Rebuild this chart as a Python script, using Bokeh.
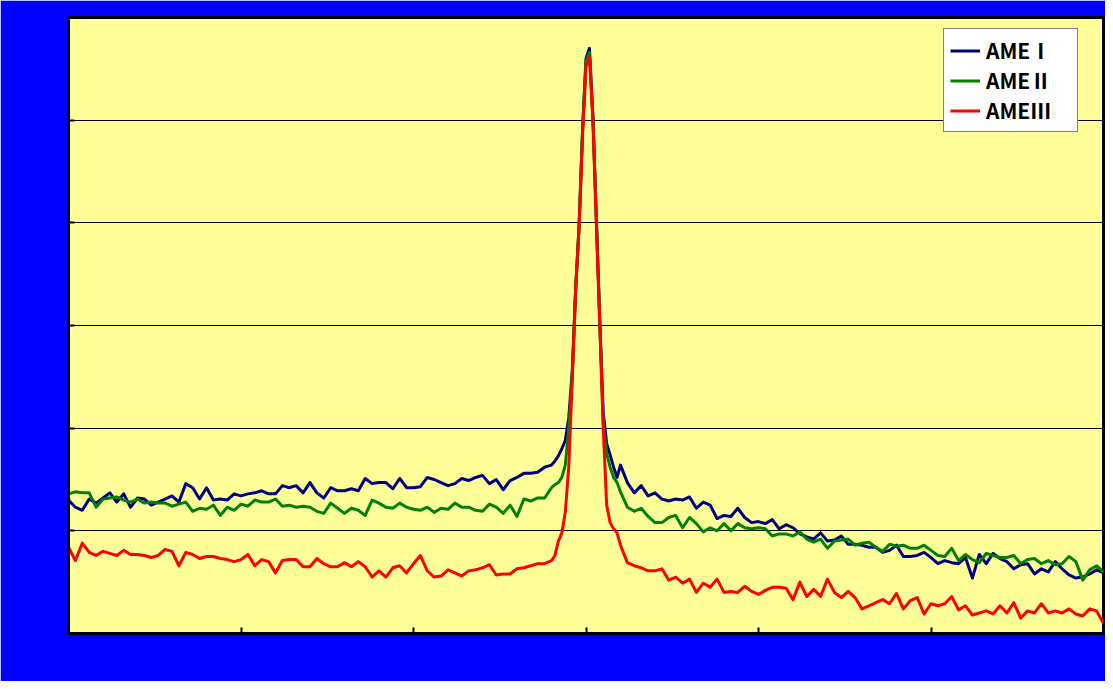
from bokeh.plotting import figure
from bokeh.models import Range1d, FixedTicker, Legend, LegendItem
from bokeh.embed import file_html
from bokeh.resources import INLINE

# x grid (arbitrary units, tick every 100)
x_left = list(range(0, 281, 4))
x_peak = list(range(282, 321, 2))
x_right = list(range(324, 601, 4))
x_ticks = [0, 100, 200, 300, 400, 500, 600]
y_ticks = [0, 1, 2, 3, 4, 5, 6]

series_names = ["AMEⅠ", "AMEⅡ", "AMEⅢ"]
series_colors = ["#000080", "#008000", "#FF0000"]

ame1_left = [1.30, 1.23, 1.20, 1.31, 1.27, 1.32, 1.37, 1.28, 1.36, 1.23,
             1.32, 1.31, 1.25, 1.28, 1.31, 1.34, 1.28, 1.46, 1.42, 1.31,
             1.42, 1.30, 1.31, 1.30, 1.36, 1.34, 1.36, 1.37, 1.39, 1.36,
             1.36, 1.44, 1.42, 1.44, 1.37, 1.47, 1.37, 1.32, 1.42, 1.39,
             1.39, 1.41, 1.39, 1.51, 1.46, 1.47, 1.47, 1.41, 1.51, 1.42,
             1.42, 1.43, 1.52, 1.50, 1.47, 1.44, 1.46, 1.51, 1.49, 1.52,
             1.54, 1.46, 1.50, 1.40, 1.49, 1.52, 1.56, 1.56, 1.57, 1.62,
             1.64]
ame1_peak = [1.68, 1.73, 1.80, 1.88, 2.10, 2.55, 3.35, 3.98, 4.90, 5.60,
             5.70, 5.05, 4.05, 3.05, 2.15, 1.85, 1.74, 1.62, 1.52, 1.64]
ame1_right = [1.47, 1.37, 1.44, 1.34, 1.37, 1.31, 1.29, 1.31, 1.30, 1.33,
              1.22, 1.28, 1.25, 1.12, 1.15, 1.14, 1.22, 1.13, 1.08, 1.09,
              1.07, 1.11, 1.02, 1.06, 1.03, 0.97, 0.94, 0.92, 0.98, 0.90,
              0.91, 0.95, 0.87, 0.87, 0.86, 0.84, 0.84, 0.79, 0.81, 0.86,
              0.75, 0.75, 0.76, 0.79, 0.74, 0.68, 0.71, 0.69, 0.68, 0.74,
              0.54, 0.77, 0.68, 0.78, 0.73, 0.70, 0.63, 0.67, 0.68, 0.58,
              0.63, 0.60, 0.70, 0.63, 0.57, 0.54, 0.55, 0.58, 0.62, 0.59]

ame2_left = [1.36, 1.38, 1.37, 1.37, 1.23, 1.31, 1.32, 1.33, 1.30, 1.28,
             1.31, 1.27, 1.28, 1.27, 1.27, 1.24, 1.26, 1.28, 1.19, 1.22,
             1.21, 1.25, 1.15, 1.23, 1.20, 1.26, 1.24, 1.30, 1.28, 1.28,
             1.31, 1.24, 1.25, 1.23, 1.24, 1.23, 1.19, 1.17, 1.27, 1.22,
             1.17, 1.22, 1.20, 1.15, 1.30, 1.27, 1.23, 1.22, 1.27, 1.23,
             1.21, 1.20, 1.23, 1.18, 1.22, 1.21, 1.27, 1.23, 1.23, 1.20,
             1.19, 1.26, 1.23, 1.17, 1.25, 1.14, 1.31, 1.29, 1.32, 1.32,
             1.42]
ame2_peak = [1.45, 1.47, 1.52, 1.64, 2.00, 2.50, 3.35, 3.98, 4.90, 5.58,
             5.66, 5.02, 4.02, 3.02, 2.05, 1.75, 1.62, 1.52, 1.47, 1.38]
ame2_right = [1.23, 1.19, 1.22, 1.14, 1.08, 1.08, 1.13, 1.15, 1.03, 1.13,
              1.07, 0.99, 1.03, 1.00, 1.07, 1.00, 1.07, 1.03, 1.02, 1.03,
              1.02, 0.95, 0.97, 0.97, 0.95, 0.99, 0.92, 0.89, 0.92, 0.83,
              0.90, 0.91, 0.92, 0.86, 0.88, 0.89, 0.84, 0.80, 0.87, 0.85,
              0.86, 0.83, 0.83, 0.86, 0.81, 0.76, 0.75, 0.83, 0.71, 0.77,
              0.72, 0.69, 0.78, 0.76, 0.74, 0.74, 0.76, 0.68, 0.72, 0.73,
              0.68, 0.71, 0.67, 0.68, 0.75, 0.70, 0.52, 0.62, 0.66, 0.60]

ame3_left = [0.84, 0.71, 0.88, 0.79, 0.76, 0.80, 0.78, 0.76, 0.81, 0.77,
             0.77, 0.76, 0.74, 0.76, 0.82, 0.80, 0.66, 0.79, 0.77, 0.73,
             0.75, 0.75, 0.73, 0.72, 0.70, 0.72, 0.77, 0.66, 0.72, 0.70,
             0.59, 0.71, 0.72, 0.72, 0.65, 0.65, 0.73, 0.68, 0.65, 0.65,
             0.69, 0.65, 0.70, 0.65, 0.55, 0.61, 0.55, 0.64, 0.66, 0.59,
             0.68, 0.76, 0.61, 0.55, 0.56, 0.62, 0.59, 0.56, 0.61, 0.62,
             0.64, 0.67, 0.57, 0.58, 0.58, 0.63, 0.64, 0.66, 0.68, 0.68,
             0.71]
ame3_peak = [0.76, 0.90, 0.98, 1.18, 1.62, 2.45, 3.35, 3.95, 4.85, 5.52,
             5.62, 5.00, 4.00, 3.00, 2.00, 1.25, 1.08, 1.02, 0.98, 0.86]
ame3_right = [0.69, 0.66, 0.64, 0.61, 0.61, 0.63, 0.52, 0.55, 0.49, 0.53,
              0.40, 0.49, 0.45, 0.53, 0.40, 0.41, 0.40, 0.46, 0.41, 0.38,
              0.42, 0.45, 0.45, 0.44, 0.33, 0.50, 0.36, 0.43, 0.36, 0.53,
              0.40, 0.35, 0.41, 0.35, 0.24, 0.27, 0.30, 0.33, 0.29, 0.39,
              0.24, 0.32, 0.35, 0.19, 0.29, 0.27, 0.29, 0.36, 0.23, 0.27,
              0.18, 0.20, 0.22, 0.19, 0.27, 0.20, 0.30, 0.15, 0.22, 0.20,
              0.29, 0.20, 0.22, 0.20, 0.24, 0.19, 0.17, 0.24, 0.22, 0.10]

x_all = x_left + x_peak + x_right
ys = [ame1_left + ame1_peak + ame1_right,
      ame2_left + ame2_peak + ame2_right,
      ame3_left + ame3_peak + ame3_right]

p = figure(width=1105, height=681, output_backend="svg", toolbar_location=None,
           x_range=Range1d(0, 600), y_range=Range1d(0, 6),
           min_border_left=68, min_border_top=17, min_border_right=2,
           min_border_bottom=48,
           background_fill_color="#FFFF99", border_fill_color="#0000FF")
p.outline_line_color = "black"
p.outline_line_width = 3

p.xgrid.visible = False
p.ygrid.ticker = FixedTicker(ticks=y_ticks)
p.ygrid.grid_line_color = "black"
p.ygrid.grid_line_width = 1

p.xaxis.ticker = FixedTicker(ticks=x_ticks)
p.yaxis.ticker = FixedTicker(ticks=y_ticks)
p.xaxis.major_label_overrides = {t: "" for t in x_ticks}
p.yaxis.major_label_overrides = {t: "" for t in y_ticks}
for ax in (p.xaxis, p.yaxis):
    ax.axis_line_color = "black"
    ax.axis_line_width = 3
    ax.major_tick_in = 6
    ax.major_tick_out = 0
    ax.major_tick_line_width = 2
    ax.major_tick_line_color = "black"
    ax.minor_tick_in = 0
    ax.minor_tick_out = 0
    ax.major_label_standoff = 0

items = []
for name, col, yv in zip(series_names, series_colors, ys):
    r = p.line(x_all, yv, line_color=col, line_width=3, line_join="round")
    items.append(LegendItem(label=name, renderers=[r]))

legend = Legend(items=items, location=(875, 501))
legend.label_text_font = "Noto Sans CJK JP"
legend.label_text_font_style = "bold"
legend.label_text_font_size = "21px"
legend.label_text_color = "black"
legend.glyph_width = 30
legend.glyph_height = 29
legend.label_height = 29
legend.label_width = 85
legend.label_standoff = 6
legend.padding = 6
legend.spacing = 0
legend.margin = 0
legend.border_line_color = "black"
legend.border_line_width = 1
legend.background_fill_color = "white"
legend.background_fill_alpha = 1.0
p.add_layout(legend)

open("out.html", "w").write(file_html(p, INLINE))
